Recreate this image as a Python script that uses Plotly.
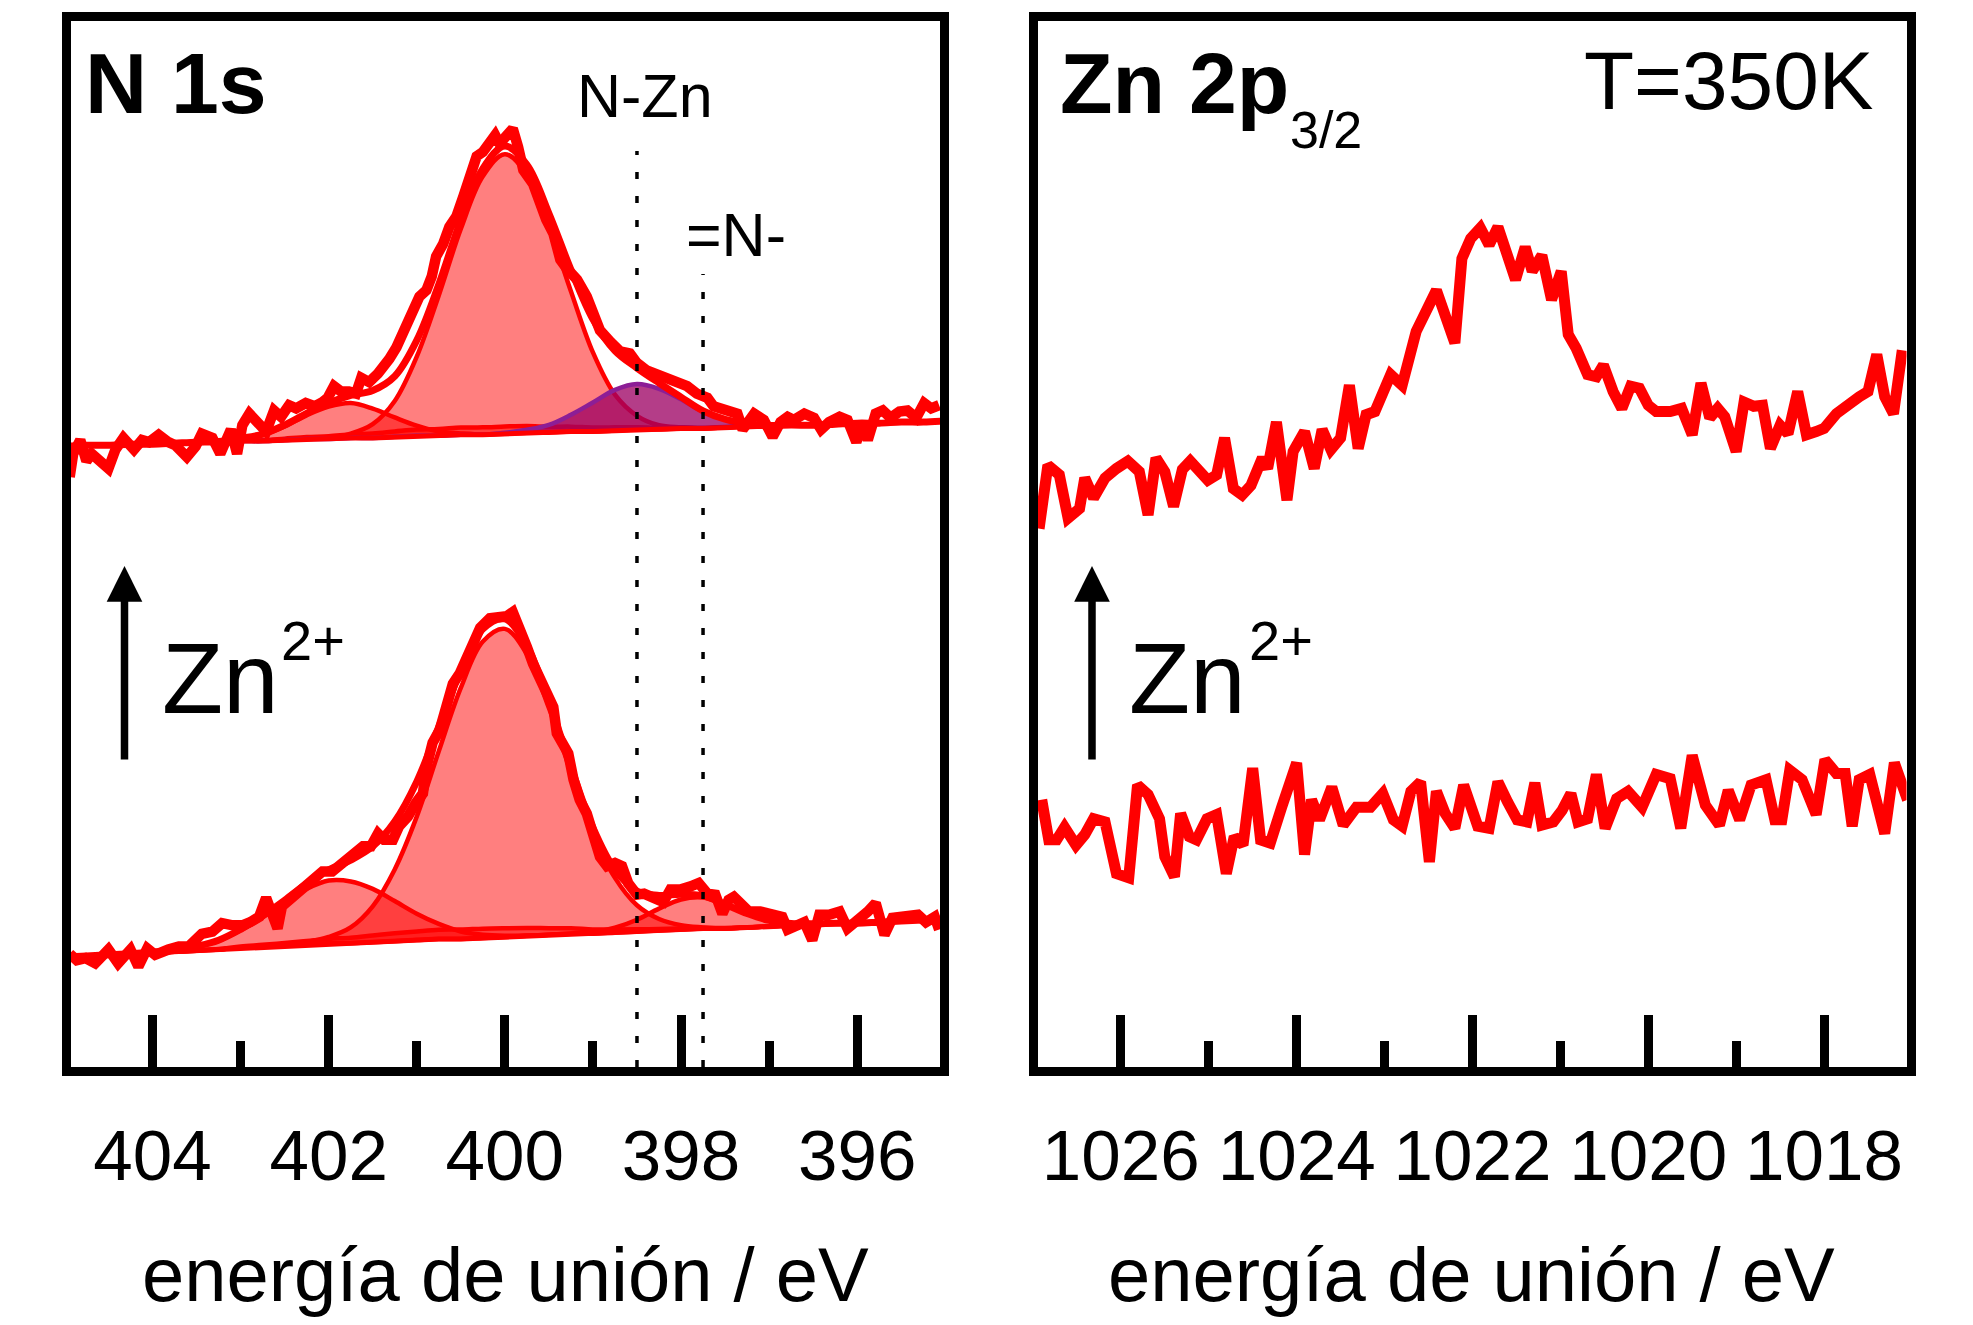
import numpy as np
import plotly.graph_objects as go

# ---------------- N 1s : measured spectra (binding energy / eV, intensity / a.u.) ----------------
n1s_upper_be = [404.94, 404.90, 404.82, 404.75, 404.69, 404.61, 404.50, 404.42, 404.33, 404.21,
                404.12, 404.04, 403.93, 403.82, 403.74, 403.61, 403.51, 403.44, 403.32, 403.23,
                403.11, 403.04, 402.98, 402.90, 402.79, 402.71, 402.62, 402.54, 402.45, 402.37,
                402.26, 402.16, 402.07, 402.01, 401.94, 401.86, 401.77, 401.69, 401.63, 401.54,
                401.44, 401.37, 401.31, 401.23, 401.16, 401.08, 401.04, 400.97, 400.89, 400.83,
                400.78, 400.70, 400.63, 400.55, 400.47, 400.40, 400.32, 400.25, 400.17, 400.11,
                400.06, 399.98, 399.91, 399.85, 399.79, 399.68, 399.60, 399.53, 399.45, 399.37,
                399.30, 399.18, 399.07, 398.99, 398.92, 398.80, 398.69, 398.58, 398.50, 398.39,
                398.23, 398.08, 397.93, 397.82, 397.70, 397.63, 397.48, 397.36, 397.30, 397.17,
                397.06, 396.96, 396.87, 396.79, 396.72, 396.60, 396.49, 396.41, 396.32, 396.20,
                396.11, 396.01, 395.94, 395.88, 395.79, 395.71, 395.62, 395.52, 395.43, 395.33,
                395.24, 395.16, 395.07]
n1s_upper_int = [56.4, 58.6, 59.9, 57.9, 58.6, 57.9, 57.2, 59.0, 60.1, 59.0,
                 59.9, 59.7, 60.4, 59.7, 59.4, 58.3, 59.3, 60.5, 60.1, 58.6,
                 60.9, 58.6, 61.3, 62.4, 61.2, 60.7, 62.7, 62.1, 63.2, 62.9,
                 63.4, 63.1, 63.5, 63.9, 65.0, 64.5, 64.5, 64.3, 65.8, 65.4,
                 66.2, 66.9, 67.6, 68.7, 69.9, 71.3, 72.5, 73.5, 74.1, 75.4,
                 77.3, 78.5, 80.1, 81.1, 83.0, 84.9, 86.8, 87.2, 88.0, 88.8,
                 88.0, 88.8, 89.4, 87.7, 85.5, 84.2, 82.3, 80.8, 79.5, 77.0,
                 76.2, 75.1, 73.5, 71.9, 70.3, 69.2, 68.3, 68.1, 67.2, 66.5,
                 65.9, 65.4, 65.0, 64.3, 63.9, 63.1, 62.7, 62.4, 60.9, 62.4,
                 61.8, 60.2, 61.6, 62.1, 61.8, 62.4, 62.0, 60.9, 61.6, 62.1,
                 61.8, 59.7, 61.6, 59.9, 62.4, 62.7, 62.0, 62.6, 62.7, 62.0,
                 63.4, 62.9, 63.2]

n1s_lower_be = [404.94, 404.86, 404.76, 404.65, 404.50, 404.39, 404.25, 404.16, 404.06, 403.97,
                403.82, 403.70, 403.59, 403.51, 403.44, 403.32, 403.21, 403.09, 402.98, 402.89,
                402.79, 402.71, 402.64, 402.58, 402.53, 402.41, 402.30, 402.18, 402.07, 401.96,
                401.84, 401.73, 401.61, 401.52, 401.44, 401.37, 401.27, 401.20, 401.10, 401.01,
                400.93, 400.89, 400.82, 400.74, 400.66, 400.59, 400.51, 400.40, 400.28, 400.17,
                400.06, 399.98, 399.91, 399.83, 399.75, 399.68, 399.60, 399.53, 399.45, 399.41,
                399.34, 399.28, 399.22, 399.15, 399.07, 398.99, 398.92, 398.84, 398.75, 398.67,
                398.60, 398.50, 398.42, 398.31, 398.20, 398.12, 398.01, 397.89, 397.80, 397.70,
                397.61, 397.53, 397.46, 397.40, 397.32, 397.23, 397.10, 396.94, 396.85, 396.79,
                396.68, 396.60, 396.51, 396.43, 396.32, 396.20, 396.11, 395.98, 395.88, 395.79,
                395.69, 395.60, 395.50, 395.39, 395.31, 395.22, 395.12, 395.07]
n1s_lower_int = [11.2, 10.6, 10.8, 10.3, 11.6, 10.3, 11.6, 10.0, 11.7, 11.1,
                 11.6, 11.9, 11.9, 12.5, 13.1, 13.3, 14.1, 13.9, 13.9, 14.2,
                 14.7, 16.5, 14.7, 13.6, 15.7, 16.6, 17.3, 18.5, 19.0, 19.0,
                 19.8, 20.6, 21.4, 21.4, 22.6, 22.0, 22.0, 23.3, 24.2, 25.5,
                 26.4, 28.9, 31.2, 32.4, 35.3, 36.8, 37.8, 40.0, 42.1, 43.0,
                 43.0, 43.2, 43.6, 42.2, 40.3, 38.7, 37.2, 35.9, 34.6, 32.1,
                 30.8, 30.2, 27.7, 25.8, 24.5, 22.6, 20.4, 19.5, 19.8, 19.5,
                 17.9, 16.8, 16.9, 16.5, 16.1, 17.3, 17.3, 17.6, 17.9, 16.9,
                 16.8, 15.0, 16.3, 16.6, 16.0, 15.2, 15.2, 15.0, 14.7, 13.5,
                 13.9, 14.2, 12.5, 14.9, 14.9, 15.2, 13.6, 14.4, 15.2, 16.0,
                 13.0, 14.6, 14.7, 14.6, 14.9, 14.2, 14.7, 13.5]

# ---------------- N 1s : peak fit on a common energy grid ----------------
fit_be = [405.0, 404.75, 404.5, 404.25, 404.0, 403.75, 403.5, 403.25, 403.0, 402.75,
          402.5, 402.25, 402.0, 401.75, 401.5, 401.25, 401.0, 400.75, 400.5, 400.25,
          400.0, 399.75, 399.5, 399.25, 399.0, 398.75, 398.5, 398.25, 398.0, 397.75,
          397.5, 397.25, 397.0, 396.75, 396.5, 396.25, 396.0, 395.75, 395.5, 395.25, 395.0]

upper_background = [59.3, 59.4, 59.4, 59.5, 59.5, 59.6, 59.7, 59.7, 59.8, 59.8,
                    59.9, 60.0, 60.0, 60.1, 60.1, 60.2, 60.3, 60.3, 60.4, 60.4,
                    60.5, 60.6, 60.6, 60.7, 60.7, 60.8, 60.9, 60.9, 61.0, 61.0,
                    61.1, 61.2, 61.2, 61.3, 61.3, 61.4, 61.5, 61.5, 61.6, 61.6, 61.7]
upper_main = [0, 0, 0, 0, 0, 0, 0, 0, 0, 0,
              0, 0, 0.1, 0.4, 1.3, 3.4, 7.5, 13.3, 19.5, 24.5,
              26.5, 24.5, 19.5, 13.3, 7.5, 3.4, 1.3, 0.4, 0.1, 0,
              0, 0, 0, 0, 0, 0, 0, 0, 0, 0, 0]
upper_high = [0, 0, 0, 0, 0, 0, 0, 0.06, 0.21, 0.58,
              1.29, 2.24, 3.06, 3.3, 2.78, 1.84, 0.96, 0.40, 0.13, 0.03,
              0, 0, 0, 0, 0, 0, 0, 0, 0, 0,
              0, 0, 0, 0, 0, 0, 0, 0, 0, 0, 0]
upper_nzn = [0, 0, 0, 0, 0, 0, 0, 0, 0, 0,
             0, 0, 0, 0, 0, 0, 0, 0, 0, 0,
             0.08, 0.27, 0.73, 1.59, 2.76, 3.85, 4.3, 3.85, 2.76, 1.59,
             0.73, 0.27, 0.08, 0.02, 0, 0, 0, 0, 0, 0, 0]
upper_broad = [0, 0, 0, 0, 0, 0, 0, 0, 0.05, 0.08,
               0.13, 0.18, 0.25, 0.33, 0.42, 0.51, 0.59, 0.65, 0.69, 0.70,
               0.68, 0.63, 0.56, 0.47, 0.39, 0.30, 0.22, 0.16, 0.11, 0.07,
               0.04, 0, 0, 0, 0, 0, 0, 0, 0, 0, 0]

lower_background = [10.9, 11.0, 11.1, 11.2, 11.3, 11.4, 11.5, 11.6, 11.8, 11.9,
                    12.0, 12.1, 12.2, 12.2, 12.3, 12.4, 12.5, 12.6, 12.6, 12.7,
                    12.8, 12.9, 13.0, 13.1, 13.1, 13.2, 13.3, 13.4, 13.5, 13.6,
                    13.6, 13.7, 13.8, 13.9, 14.0, 14.1, 14.1, 14.2, 14.3, 14.4, 14.5]
lower_main = [0, 0, 0, 0, 0, 0, 0, 0, 0, 0,
              0, 0.2, 0.6, 1.5, 3.4, 6.8, 11.7, 17.8, 23.8, 28.1,
              29.2, 26.7, 21.5, 15.3, 9.5, 5.2, 2.5, 1.1, 0.4, 0.1,
              0, 0, 0, 0, 0, 0, 0, 0, 0, 0, 0]
lower_high = [0, 0, 0, 0, 0.05, 0.15, 0.38, 0.83, 1.62, 2.74,
              4.06, 5.25, 5.94, 5.86, 5.05, 3.8, 2.5, 1.43, 0.72, 0.31,
              0.12, 0.04, 0, 0, 0, 0, 0, 0, 0, 0,
              0, 0, 0, 0, 0, 0, 0, 0, 0, 0, 0]
lower_low = [0, 0, 0, 0, 0, 0, 0, 0, 0, 0,
             0, 0, 0, 0, 0, 0, 0, 0, 0, 0,
             0, 0, 0, 0.03, 0.15, 0.47, 1.13, 2.08, 2.85, 2.93,
             2.26, 1.32, 0.57, 0.18, 0.04, 0, 0, 0, 0, 0, 0]
lower_broad = [0, 0, 0, 0, 0, 0, 0.04, 0.06, 0.10, 0.15,
               0.22, 0.31, 0.41, 0.52, 0.63, 0.74, 0.82, 0.88, 0.9, 0.88,
               0.82, 0.74, 0.63, 0.52, 0.41, 0.31, 0.22, 0.15, 0.10, 0.06,
               0.04, 0, 0, 0, 0, 0, 0, 0, 0, 0, 0]

# ---------------- Zn 2p3/2 spectra ----------------
zn_upper_be = [1026.93, 1026.83, 1026.70, 1026.60, 1026.47, 1026.41, 1026.31, 1026.18, 1026.05, 1025.92,
               1025.79, 1025.69, 1025.60, 1025.50, 1025.40, 1025.30, 1025.21, 1025.01, 1024.91, 1024.82,
               1024.72, 1024.62, 1024.52, 1024.39, 1024.33, 1024.23, 1024.11, 1024.04, 1023.91, 1023.80,
               1023.71, 1023.61, 1023.50, 1023.40, 1023.30, 1023.21, 1023.11, 1022.93, 1022.80, 1022.64,
               1022.41, 1022.20, 1022.12, 1022.02, 1021.91, 1021.81, 1021.71, 1021.51, 1021.40, 1021.32,
               1021.21, 1021.10, 1020.99, 1020.91, 1020.82, 1020.69, 1020.59, 1020.51, 1020.40, 1020.30,
               1020.20, 1020.10, 1020.00, 1019.91, 1019.75, 1019.62, 1019.50, 1019.40, 1019.30, 1019.21,
               1019.13, 1019.00, 1018.91, 1018.80, 1018.70, 1018.61, 1018.50, 1018.41, 1018.30, 1018.20,
               1018.09, 1018.00, 1017.86, 1017.70, 1017.60, 1017.50, 1017.40, 1017.31, 1017.21, 1017.11]
zn_upper_int = [51.5, 57.5, 56.6, 52.5, 53.4, 56.3, 54.4, 56.3, 57.2, 57.9,
                56.9, 52.8, 58.2, 56.9, 53.6, 57.1, 57.9, 56.1, 56.6, 60.1,
                55.3, 54.7, 55.6, 58.2, 57.2, 61.6, 54.2, 58.8, 60.7, 57.2,
                60.9, 59.0, 60.1, 65.1, 59.1, 62.3, 62.6, 66.1, 65.1, 70.2,
                74.1, 69.1, 77.1, 79.0, 80.0, 78.4, 80.1, 75.1, 78.2, 75.9,
                77.4, 73.2, 75.9, 69.9, 68.6, 66.1, 65.9, 67.0, 64.5, 62.9,
                65.0, 64.8, 63.2, 62.6, 62.6, 62.9, 60.4, 65.3, 62.0, 62.9,
                62.1, 58.8, 63.5, 63.1, 63.2, 59.1, 61.3, 60.5, 64.5, 60.4,
                60.7, 61.0, 62.4, 63.5, 64.0, 64.5, 68.0, 64.0, 62.4, 68.4]

zn_lower_be = [1026.90, 1026.82, 1026.73, 1026.64, 1026.51, 1026.41, 1026.31, 1026.18, 1026.05, 1025.91,
               1025.81, 1025.69, 1025.56, 1025.50, 1025.39, 1025.32, 1025.22, 1025.14, 1025.02, 1024.91,
               1024.80, 1024.71, 1024.61, 1024.50, 1024.41, 1024.30, 1024.17, 1024.00, 1023.91, 1023.83,
               1023.74, 1023.60, 1023.47, 1023.32, 1023.16, 1023.02, 1022.90, 1022.80, 1022.70, 1022.59,
               1022.49, 1022.41, 1022.31, 1022.20, 1022.10, 1021.94, 1021.81, 1021.71, 1021.60, 1021.49,
               1021.38, 1021.29, 1021.21, 1021.08, 1020.98, 1020.88, 1020.80, 1020.69, 1020.59, 1020.49,
               1020.36, 1020.23, 1020.07, 1019.91, 1019.75, 1019.63, 1019.50, 1019.35, 1019.19, 1019.09,
               1018.96, 1018.83, 1018.66, 1018.56, 1018.48, 1018.39, 1018.25, 1018.09, 1017.99, 1017.86,
               1017.76, 1017.68, 1017.60, 1017.48, 1017.31, 1017.20, 1017.05]
zn_lower_int = [25.8, 22.0, 22.0, 23.2, 21.5, 22.5, 24.0, 23.7, 18.8, 18.4,
                27.2, 26.3, 24.0, 20.4, 18.5, 24.5, 22.3, 22.0, 24.0, 24.4,
                18.8, 22.3, 21.5, 28.8, 22.0, 21.7, 25.1, 29.3, 20.6, 25.8,
                23.9, 27.0, 23.4, 25.1, 25.1, 26.4, 23.9, 23.3, 26.6, 27.5,
                19.9, 26.6, 24.5, 23.1, 27.2, 23.3, 23.1, 27.5, 25.6, 23.9,
                23.7, 27.4, 23.4, 23.7, 24.8, 26.4, 23.7, 24.0, 28.2, 23.1,
                25.9, 26.6, 25.1, 28.2, 27.8, 23.1, 30.0, 25.3, 23.4, 26.7,
                23.9, 27.2, 27.7, 23.9, 23.9, 28.6, 27.7, 24.4, 29.6, 28.3,
                28.3, 23.3, 27.7, 28.2, 22.6, 29.3, 25.8]

# ---------------- axes, reference energies, labels ----------------
n1s_range = [404.925, 395.06]
zn_range = [1026.948, 1017.062]
intensity_range = [0.47, 99.62]
ref_names = ["N-Zn", "=N-"]
ref_be = [398.5, 397.75]
axis_title = "energía de unión / eV"

RED = "#ff0000"
PINK = "rgba(255,0,0,0.5)"
PURPLE_FILL = "rgba(157,0,98,0.76)"
PURPLE_LINE = "rgb(140,30,150)"
FONT = "Liberation Sans, Arial, sans-serif"

fig = go.Figure()


def add_component(heights, background, fill, line, xa="x", ya="y"):
    top = np.round(np.add(background, heights), 2)
    fig.add_trace(go.Scatter(x=fit_be, y=background, mode="lines", line=dict(width=0),
                             hoverinfo="skip", xaxis=xa, yaxis=ya))
    fig.add_trace(go.Scatter(x=fit_be, y=top, mode="lines", fill="tonexty", fillcolor=fill,
                             line=dict(color=line, width=4.5, shape="spline"),
                             xaxis=xa, yaxis=ya))


def add_fit(background, components):
    for h, fill, line in components:
        add_component(h, background, fill, line)
    fig.add_trace(go.Scatter(x=fit_be, y=background, mode="lines",
                             line=dict(color=RED, width=5), xaxis="x", yaxis="y"))
    envelope = np.add(background, np.sum([c[0] for c in components], axis=0))
    fig.add_trace(go.Scatter(x=fit_be, y=np.round(envelope, 2), mode="lines",
                             line=dict(color=RED, width=7, shape="spline"), xaxis="x", yaxis="y"))


# N 1s, lower spectrum and its fit
add_fit(lower_background, [(lower_broad, PINK, RED), (lower_high, PINK, RED),
                           (lower_main, PINK, RED), (lower_low, PINK, RED)])
fig.add_trace(go.Scatter(x=n1s_lower_be, y=n1s_lower_int, mode="lines",
                         line=dict(color=RED, width=10.5), xaxis="x", yaxis="y"))

# N 1s, upper spectrum and its fit
add_fit(upper_background, [(upper_broad, PINK, RED), (upper_high, PINK, RED),
                           (upper_main, PINK, RED), (upper_nzn, PURPLE_FILL, PURPLE_LINE)])
fig.add_trace(go.Scatter(x=n1s_upper_be, y=n1s_upper_int, mode="lines",
                         line=dict(color=RED, width=10.5), xaxis="x", yaxis="y"))

# Zn 2p3/2 spectra
for be, inten in [(zn_lower_be, zn_lower_int), (zn_upper_be, zn_upper_int)]:
    fig.add_trace(go.Scatter(x=be, y=inten, mode="lines",
                             line=dict(color=RED, width=11), xaxis="x2", yaxis="y2"))

ydom = [0.194717, 0.984151]
xaxis_common = dict(
    showline=True, linewidth=9, linecolor="black", mirror=True,
    ticks="inside", ticklen=52, tickwidth=9, tickcolor="black",
    dtick=2, tick0=0, showgrid=False, zeroline=False,
    minor=dict(ticks="inside", ticklen=26, tickwidth=9, tickcolor="black", dtick=1, tick0=0),
    tickfont=dict(family=FONT, size=71, color="black"),
    ticklabelstandoff=19, fixedrange=True,
)
yaxis_common = dict(
    showline=True, linewidth=9, linecolor="black", mirror=True,
    showticklabels=False, ticks="", showgrid=False, zeroline=False,
    range=intensity_range, domain=ydom, fixedrange=True,
)

fig.update_layout(
    width=1973, height=1325,
    margin=dict(l=0, r=0, t=0, b=0),
    paper_bgcolor="white", plot_bgcolor="white",
    showlegend=False,
    font=dict(family=FONT, color="black"),
    xaxis=dict(xaxis_common, domain=[0.035986, 0.476432], range=n1s_range, anchor="y"),
    yaxis=dict(yaxis_common, anchor="x"),
    xaxis2=dict(xaxis_common, domain=[0.525849, 0.966295], range=zn_range, anchor="y2"),
    yaxis2=dict(yaxis_common, anchor="x2"),
)

# dotted reference lines for the N 1s components
for e, top in zip(ref_be, [0.8757, 0.7581]):
    fig.add_shape(type="line", xref="x", yref="y domain", x0=e, x1=e, y0=0, y1=top,
                  line=dict(color="black", width=3.5, dash="7px,17px"))

ann = []
# panel titles
ann.append(dict(text="<b>N 1s</b>", x=0.04200, y=0.93736, xanchor="left", yanchor="middle",
                font=dict(size=86)))
ann.append(dict(text="<b>Zn 2p</b>", x=0.53600, y=0.93736, xanchor="left", yanchor="middle",
                font=dict(size=86)))
ann.append(dict(text="3/2", x=0.65300, y=0.90226, xanchor="left", yanchor="middle",
                font=dict(size=52)))
ann.append(dict(text="T=350K", x=0.95033, y=0.93925, xanchor="right", yanchor="middle",
                font=dict(size=82)))
# component labels
ann.append(dict(text=ref_names[0], x=0.32690, y=0.92755, xanchor="center", yanchor="middle",
                font=dict(size=61)))
ann.append(dict(text=ref_names[1], x=0.37304, y=0.82264, xanchor="center", yanchor="middle",
                font=dict(size=61)))
# Zn2+ arrows and labels
for xa, xz, xs in [(0.06310, 0.08110, 0.14141), (0.55347, 0.57146, 0.63178)]:
    ann.append(dict(text="", x=xa, y=0.57283, showarrow=True, ax=0, ay=195,
                    arrowhead=2, arrowsize=0.95, arrowwidth=7.5, arrowcolor="black"))
    ann.append(dict(text="Zn", x=xz, y=0.48830, xanchor="left", yanchor="middle",
                    font=dict(size=100)))
    ann.append(dict(text="2+", x=xs, y=0.51698, xanchor="left", yanchor="middle",
                    font=dict(size=56)))
# axis titles
for xc in [0.25620, 0.74607]:
    ann.append(dict(text=axis_title, x=xc, y=0.03849, xanchor="center", yanchor="middle",
                    font=dict(size=76)))

for a in ann:
    a.setdefault("showarrow", False)
    a["xref"] = "paper"
    a["yref"] = "paper"
    f = a.get("font", {})
    f.update(family=FONT, color="black")
    a["font"] = f
fig.update_layout(annotations=ann)

fig.write_html("out.html")
